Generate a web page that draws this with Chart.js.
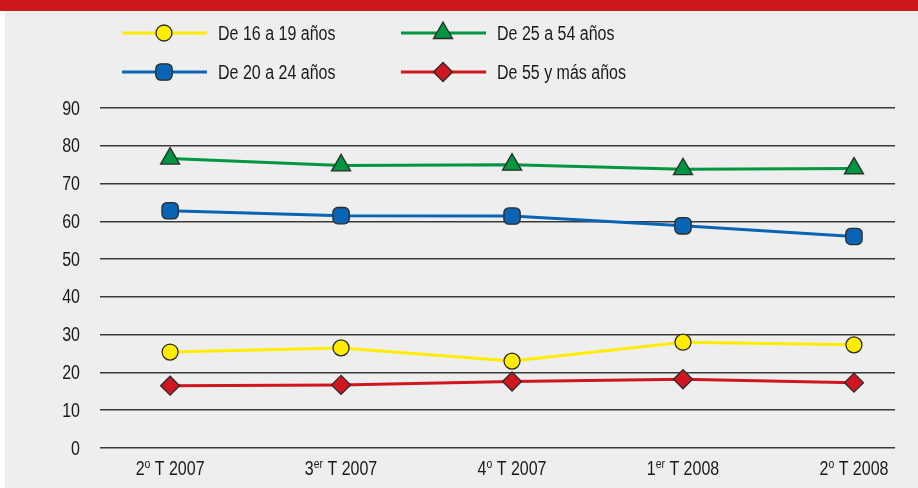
<!DOCTYPE html>
<html>
<head>
<meta charset="utf-8">
<script src="https://cdn.jsdelivr.net/npm/chart.js@4/dist/chart.umd.min.js"></script>
<style>
  html, body { margin: 0; padding: 0; background: #fff; }
  #wrap { width: 918px; height: 488px; }
</style>
</head>
<body>
<div id="wrap"><canvas id="empleoChart"></canvas></div>
<script>
const FONT = '"Liberation Sans", Arial, sans-serif';
const SX = 0.8; // horizontal squeeze to imitate the condensed face

// quarter labels: number, superscript, year
const quarterNum = ["2", "3", "4", "1", "2"];
const quarterSup = ["o", "er", "o", "er", "o"];
const quarterYear = ["T 2007", "T 2007", "T 2007", "T 2008", "T 2008"];

const yTicks = [0, 10, 20, 30, 40, 50, 60, 70, 80, 90];

const serie16a19 = [25.4, 26.5, 23.0, 28.0, 27.3];
const serie20a24 = [62.8, 61.5, 61.4, 58.8, 56.0];
const serie25a54 = [76.6, 74.8, 75.0, 73.8, 74.0];
const serie55mas = [16.5, 16.7, 17.6, 18.2, 17.3];

const ctx = document.querySelector("#empleoChart").getContext("2d");

function pts(arr) {
  return arr.map((v, i) => ({ x: i, y: v }));
}

const datasets = [
  {
    label: "De 16 a 19 años",
    data: pts(serie16a19),
    borderColor: "#ffec00",
    backgroundColor: "#ffec00",
    pointStyle: "circle",
    pointRadius: 8,
  },
  {
    label: "De 25 a 54 años",
    data: pts(serie25a54),
    borderColor: "#00963f",
    backgroundColor: "#00963f",
    pointStyle: "triangle",
    pointRadius: 11,
  },
  {
    label: "De 20 a 24 años",
    data: pts(serie20a24),
    borderColor: "#0a64b4",
    backgroundColor: "#0a64b4",
    pointStyle: "rectRounded",
    pointRadius: 9.5,
  },
  {
    label: "De 55 y más años",
    data: pts(serie55mas),
    borderColor: "#d0161e",
    backgroundColor: "#d0161e",
    pointStyle: "rectRot",
    pointRadius: 9.5,
  },
];
datasets.forEach((d) => {
  d.borderWidth = 3;
  d.pointBorderColor = "#2b2b2b";
  d.pointBorderWidth = 1.3;
  d.pointHoverRadius = d.pointRadius;
  d.tension = 0;
});

// squeezed text helper
function squeezed(c, text, x, y, size, align) {
  c.save();
  c.font = size + "px " + FONT;
  c.textBaseline = "middle";
  const w = c.measureText(text).width * SX;
  let left = x;
  if (align === "right") left = x - w;
  if (align === "center") left = x - w / 2;
  c.translate(left, y);
  c.scale(SX, 1);
  c.textAlign = "left";
  c.fillText(text, 0, 0);
  c.restore();
  return w;
}
function textWidth(c, text, size) {
  c.save();
  c.font = size + "px " + FONT;
  const w = c.measureText(text).width * SX;
  c.restore();
  return w;
}

//Background panel, red top band
const backdrop = {
  id: "backdrop",
  beforeDraw(chart) {
    const c = chart.ctx;
    c.save();
    c.fillStyle = "#ffffff";
    c.fillRect(0, 0, chart.width, chart.height);
    c.fillStyle = "#eeeeee";
    c.fillRect(5, 0, chart.width - 5, chart.height);
    c.fillStyle = "#cf1720";
    c.fillRect(0, 0, chart.width, 11);
    c.restore();
  },
};

//Legend: line + marker, two columns
const lineLegend = {
  id: "lineLegend",
  afterDraw(chart) {
    const c = chart.ctx;
    const cols = [122, 401];
    const rows = [33, 72];
    c.save();
    chart.data.datasets.forEach((ds, i) => {
      const x = cols[i % 2];
      const y = rows[Math.floor(i / 2)];
      c.strokeStyle = ds.borderColor;
      c.lineWidth = 3;
      c.beginPath();
      c.moveTo(x, y);
      c.lineTo(x + 85, y);
      c.stroke();
      c.fillStyle = ds.backgroundColor;
      c.strokeStyle = ds.pointBorderColor;
      c.lineWidth = ds.pointBorderWidth;
      Chart.helpers.drawPoint(c, { pointStyle: ds.pointStyle, radius: ds.pointRadius, borderWidth: 1.3 }, x + 42, y);
      c.fillStyle = "#1a1a1a";
      squeezed(c, ds.label, x + 96, y + 1, 20, "left");
    });
    c.restore();
  },
};

//Axis labels (y values, quarters with superscripts)
const axisLabels = {
  id: "axisLabels",
  afterDraw(chart) {
    const c = chart.ctx;
    const xs = chart.scales.x;
    const ys = chart.scales.y;
    c.save();
    c.fillStyle = "#1a1a1a";
    yTicks.forEach((v) => {
      squeezed(c, String(v), 80, ys.getPixelForValue(v) + 1, 20, "right");
    });
    const y = 469;
    quarterNum.forEach((n, i) => {
      const w1 = textWidth(c, n, 20);
      const w2 = textWidth(c, quarterSup[i], 13);
      const w3 = textWidth(c, " " + quarterYear[i], 20);
      const x = xs.getPixelForValue(i) - (w1 + w2 + w3) / 2;
      squeezed(c, n, x, y, 20, "left");
      squeezed(c, quarterSup[i], x + w1, y - 5, 13, "left");
      squeezed(c, " " + quarterYear[i], x + w1 + w2, y, 20, "left");
    });
    c.restore();
  },
};

const config = {
  type: "line",
  data: { datasets },
  options: {
    responsive: true,
    maintainAspectRatio: false,
    animation: false,
    layout: { padding: { left: 5, right: 23, top: 108, bottom: 0 } },
    plugins: {
      legend: { display: false },
      tooltip: { enabled: false },
    },
    scales: {
      x: {
        type: "linear",
        min: -0.41,
        max: 4.24,
        grid: { display: false },
        border: { display: false },
        ticks: { display: false },
        afterFit(scale) { scale.height = 40; },
      },
      y: {
        min: 0,
        max: 90,
        afterBuildTicks(scale) { scale.ticks = yTicks.map((v) => ({ value: v })); },
        afterFit(scale) { scale.width = 95; },
        grid: { color: "#3a3a3a", lineWidth: 1.6, drawTicks: false },
        border: { display: false },
        ticks: { display: false },
      },
    },
  },
  plugins: [backdrop, lineLegend, axisLabels],
};

const myChart = new Chart(ctx, config);
</script>
</body>
</html>
